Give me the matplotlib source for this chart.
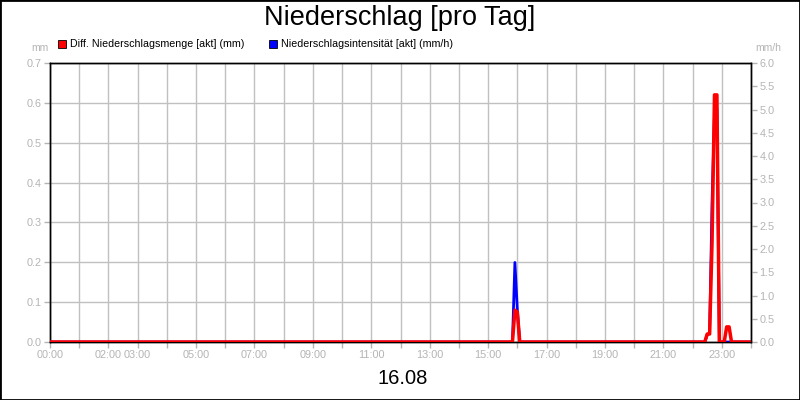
import numpy as np
import matplotlib
matplotlib.use('Agg')
import matplotlib.pyplot as plt
from matplotlib.patches import Rectangle

plt.rcParams['font.family'] = ['Liberation Sans', 'DejaVu Sans']

title = 'Niederschlag [pro Tag]'
date_label = '16.08'
label_red = 'Diff. Niederschlagsmenge [akt] (mm)'
label_blue = 'Niederschlagsintensität [akt] (mm/h)'

# Differenz Niederschlagsmenge (mm), linke Achse
red_times = ['00:00', '15:50', '15:55', '16:00', '16:05', '22:25', '22:30', '22:35', '22:40',
             '22:45', '22:50', '22:55', '23:05', '23:10', '23:15', '23:20', '24:00']
red_mm = [0, 0, 0.08, 0.075, 0, 0, 0.02, 0.02, 0.25, 0.62, 0.62, 0, 0, 0.038, 0.038, 0, 0]

# Niederschlagsintensitaet (mm/h), rechte Achse
blue_times = ['00:00', '15:50', '15:55', '16:00', '16:05', '22:25', '22:30', '22:35', '22:40',
              '22:45', '22:50', '22:55', '24:00']
blue_mmh = [0, 0, 1.71, 0.7, 0, 0, 0.15, 0.2, 3.0, 4.9, 5.0, 0, 0]

tick_hours = [0, 2, 3, 5, 7, 9, 11, 13, 15, 17, 19, 21, 23]
tick_labels = ['00:00', '02:00', '03:00', '05:00', '07:00', '09:00', '11:00', '13:00',
               '15:00', '17:00', '19:00', '21:00', '23:00']


def to_hours(t):
    h, m = t.split(':')
    return int(h) + int(m) / 60


grey = '#b4b4b4'
gridc = '#c0c0c0'

fig = plt.figure(figsize=(8, 4), dpi=100)
fig.patches.append(Rectangle((0, 0), 1, 1, transform=fig.transFigure, fill=False,
                             edgecolor='black', linewidth=2))

ax1 = fig.add_axes([50 / 800, 58 / 400, 701 / 800, 279 / 400])
ax2 = ax1.twinx()

ax1.set_xlim(0, 24)
ax1.set_ylim(0, 0.7)
ax2.set_ylim(0, 6.0)

ax1.set_xticks(range(25), minor=True)
ax1.set_xticks(tick_hours)
ax1.set_xticklabels(tick_labels)
ax1.set_yticks(np.arange(0, 0.71, 0.1))
ax1.set_yticklabels([f'{v:.1f}' for v in np.arange(0, 0.71, 0.1)])
ax2.set_yticks(np.arange(0, 6.01, 0.5))
ax2.set_yticklabels([f'{v:.1f}' for v in np.arange(0, 6.01, 0.5)])

ax1.grid(True, which='both', axis='x', color=gridc, linewidth=1)
ax1.grid(True, which='major', axis='y', color=gridc, linewidth=1)
ax1.set_axisbelow(True)

for ax in (ax1, ax2):
    ax.tick_params(axis='both', which='both', colors=grey, labelcolor=grey, labelsize=7.8,
                   length=4, width=1, pad=2)
    for s in ax.spines.values():
        s.set_color('black')
        s.set_linewidth(1)
ax1.tick_params(axis='x', which='minor', length=4)

ax2.plot([to_hours(t) for t in blue_times], blue_mmh, color='#0000ff', linewidth=2, zorder=2)
# rote Linie ueber der blauen
ax3 = ax1.twinx()
ax3.set_ylim(0, 0.7)
ax3.set_yticks([])
ax3.plot([to_hours(t) for t in red_times], red_mm, color='#ff0000', linewidth=2.5, zorder=3)
for s in ax3.spines.values():
    s.set_visible(False)

fig.text(0.5, 1 - 18 / 400, title, ha='center', va='center', fontsize=19.5)
fig.text(403 / 800, 1 - 378 / 400, date_label, ha='center', va='center', fontsize=14.5)
fig.text(40 / 800, 1 - 48 / 400, 'mm', ha='center', va='center', fontsize=7.5, color=grey)
fig.text(768 / 800, 1 - 48 / 400, 'mm/h', ha='center', va='center', fontsize=7.5, color=grey)

fig.patches.append(Rectangle((58 / 800, 1 - 48 / 400), 8 / 800, 8 / 400, transform=fig.transFigure,
                             facecolor='#ff0000', edgecolor='black', linewidth=0.6))
fig.text(70 / 800, 1 - 44 / 400, label_red, ha='left', va='center', fontsize=7.7)
fig.patches.append(Rectangle((269 / 800, 1 - 48 / 400), 8 / 800, 8 / 400, transform=fig.transFigure,
                             facecolor='#0000ff', edgecolor='black', linewidth=0.6))
fig.text(281 / 800, 1 - 44 / 400, label_blue, ha='left', va='center', fontsize=7.7)

fig.savefig('out.png', dpi=100)
